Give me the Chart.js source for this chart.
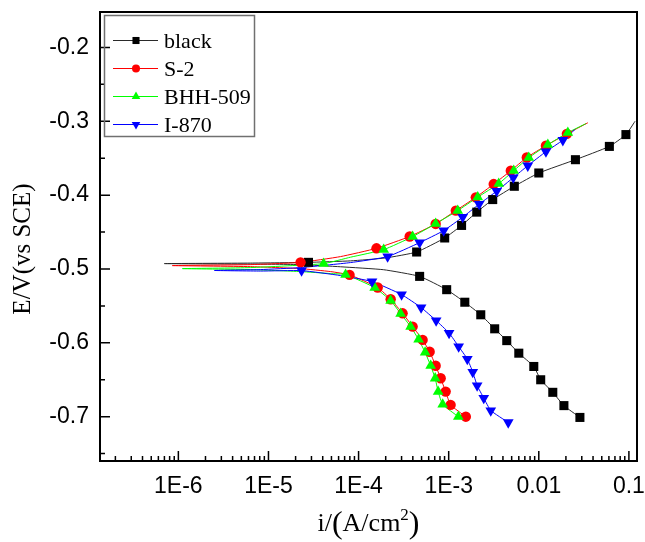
<!DOCTYPE html>
<html>
<head>
<meta charset="utf-8">
<script src="https://cdn.jsdelivr.net/npm/chart.js@4.4.1/dist/chart.umd.min.js"></script>
<style>
  html, body { margin: 0; padding: 0; background: #fff; }
</style>
</head>
<body>
<canvas id="tafel" width="645" height="542"></canvas>
<script>
// ---- values: i in A/cm2, E in V vs SCE ----
const seriesNames = ['black', 'S-2', 'BHH-509', 'I-870'];

// black: full polarisation curve, then the plotted symbols
const blackLineI = [0.0286, 0.019, 0.0143, 0.0105, 0.0088, 0.0060, 0.00441, 0.00324, 0.00227, 0.00151, 0.00095, 4.76e-4, 1.9e-4, 6.31e-5, 2.27e-5, 6.31e-6, 7.0e-7, 6.31e-6, 2.78e-5, 8.15e-5, 2.0e-4, 4.41e-4, 9.03e-4, 0.00139, 0.00205, 0.00308, 0.00535, 0.0100, 0.0255, 0.0607, 0.0927, 0.117];
const blackLineE = [-0.701, -0.685, -0.667, -0.650, -0.632, -0.614, -0.597, -0.581, -0.562, -0.545, -0.528, -0.510, -0.501, -0.497, -0.494, -0.4934, -0.4927, -0.492, -0.491, -0.489, -0.485, -0.477, -0.458, -0.441, -0.423, -0.406, -0.388, -0.370, -0.352, -0.334, -0.318, -0.300];
const blackMarkI = [2.78e-5, 4.41e-4, 9.03e-4, 0.00139, 0.00205, 0.00308, 0.00535, 0.0100, 0.0255, 0.0607, 0.0927, 4.76e-4, 9.5e-4, 0.00151, 0.00227, 0.00324, 0.00441, 0.0060, 0.0088, 0.0105, 0.0143, 0.019, 0.0286];
const blackMarkE = [-0.491, -0.477, -0.458, -0.441, -0.423, -0.406, -0.388, -0.370, -0.352, -0.334, -0.318, -0.510, -0.528, -0.545, -0.562, -0.581, -0.597, -0.614, -0.632, -0.650, -0.667, -0.685, -0.701];

// S-2
const s2LineI = [1.55e-3, 1.05e-3, 9.26e-4, 8.15e-4, 7.17e-4, 6.15e-4, 5.14e-4, 3.98e-4, 3.08e-4, 2.27e-4, 1.63e-4, 7.94e-5, 4.88e-5, 2.27e-5, 6.31e-6, 8.58e-7, 6.31e-6, 2.27e-5, 6.31e-5, 1.58e-4, 3.69e-4, 7.17e-4, 1.20e-3, 2.0e-3, 3.16e-3, 4.89e-3, 7.36e-3, 0.0120, 0.0205, 0.035];
const s2LineE = [-0.700, -0.684, -0.666, -0.648, -0.631, -0.612, -0.596, -0.578, -0.560, -0.541, -0.525, -0.508, -0.5035, -0.4995, -0.4968, -0.4954, -0.4941, -0.491, -0.4832, -0.472, -0.456, -0.439, -0.421, -0.403, -0.385, -0.367, -0.349, -0.333, -0.317, -0.302];
const s2MarkI = [2.27e-5, 1.58e-4, 3.69e-4, 7.17e-4, 1.20e-3, 2.0e-3, 3.16e-3, 4.89e-3, 7.36e-3, 0.0120, 0.0205, 7.94e-5, 1.63e-4, 2.27e-4, 3.08e-4, 3.98e-4, 5.14e-4, 6.15e-4, 7.17e-4, 8.15e-4, 9.26e-4, 1.05e-3, 1.55e-3];
const s2MarkE = [-0.491, -0.472, -0.456, -0.439, -0.421, -0.403, -0.385, -0.367, -0.349, -0.333, -0.317, -0.508, -0.525, -0.541, -0.560, -0.578, -0.596, -0.612, -0.631, -0.648, -0.666, -0.684, -0.700];

// BHH-509
const bhhLineI = [1.28e-3, 8.58e-4, 7.64e-4, 7.08e-4, 6.31e-4, 5.48e-4, 4.64e-4, 3.78e-4, 2.93e-4, 2.27e-4, 1.51e-4, 7.17e-5, 4.88e-5, 2.27e-5, 6.31e-6, 1.11e-6, 6.31e-6, 4.09e-5, 8.15e-5, 1.90e-4, 3.98e-4, 7.17e-4, 1.26e-3, 2.10e-3, 3.59e-3, 5.27e-3, 7.74e-3, 0.0126, 0.0210, 0.0333];
const bhhLineE = [-0.700, -0.6835, -0.666, -0.648, -0.631, -0.613, -0.5955, -0.578, -0.5604, -0.5428, -0.5252, -0.5076, -0.5062, -0.5035, -0.5008, -0.4995, -0.4981, -0.4927, -0.484, -0.4738, -0.4562, -0.4386, -0.421, -0.4027, -0.3845, -0.3669, -0.3493, -0.3317, -0.3154, -0.3032];
const bhhMarkI = [4.09e-5, 1.90e-4, 3.98e-4, 7.17e-4, 1.26e-3, 2.10e-3, 3.59e-3, 5.27e-3, 7.74e-3, 0.0126, 0.0210, 7.17e-5, 1.51e-4, 2.27e-4, 2.93e-4, 3.78e-4, 4.64e-4, 5.48e-4, 6.31e-4, 7.08e-4, 7.64e-4, 8.58e-4, 1.28e-3];
const bhhMarkE = [-0.4927, -0.4738, -0.4562, -0.4386, -0.421, -0.4027, -0.3845, -0.3669, -0.3493, -0.3317, -0.3154, -0.5076, -0.5252, -0.5428, -0.5604, -0.578, -0.5955, -0.613, -0.631, -0.648, -0.666, -0.6835, -0.700];

// I-870
const i870LineI = [4.58e-3, 2.93e-3, 2.45e-3, 2.07e-3, 1.85e-3, 1.61e-3, 1.29e-3, 1.01e-3, 7.26e-4, 4.94e-4, 3.0e-4, 1.41e-4, 6.31e-5, 2.33e-5, 8.15e-6, 2.51e-6, 8.15e-6, 2.27e-5, 8.15e-5, 2.10e-4, 4.76e-4, 8.80e-4, 1.43e-3, 2.18e-3, 3.41e-3, 5.21e-3, 7.55e-3, 0.0120, 0.0185, 0.0251];
const i870LineE = [-0.7078, -0.6916, -0.6747, -0.6578, -0.6395, -0.6219, -0.605, -0.5867, -0.5698, -0.5522, -0.5346, -0.517, -0.5089, -0.5022, -0.5028, -0.502, -0.5008, -0.4981, -0.4913, -0.4832, -0.4643, -0.448, -0.4298, -0.4122, -0.3946, -0.3763, -0.3601, -0.3411, -0.3256, -0.3114];
const i870MarkI = [2.10e-4, 4.76e-4, 8.80e-4, 1.43e-3, 2.18e-3, 3.41e-3, 5.21e-3, 7.55e-3, 0.0120, 0.0185, 2.33e-5, 1.41e-4, 3.0e-4, 4.94e-4, 7.26e-4, 1.01e-3, 1.29e-3, 1.61e-3, 1.85e-3, 2.07e-3, 2.45e-3, 2.93e-3, 4.58e-3];
const i870MarkE = [-0.4832, -0.4643, -0.448, -0.4298, -0.4122, -0.3946, -0.3763, -0.3601, -0.3411, -0.3256, -0.5022, -0.517, -0.5346, -0.5522, -0.5698, -0.5867, -0.605, -0.6219, -0.6395, -0.6578, -0.6747, -0.6916, -0.7078];

// axis ticks
const xMajorTicks = [1e-6, 1e-5, 1e-4, 1e-3, 0.01, 0.1];
const xTickLabels = ['1E-6', '1E-5', '1E-4', '1E-3', '0.01', '0.1'];
const yMajorTicks = [-0.7, -0.6, -0.5, -0.4, -0.3, -0.2];
const yTickLabels = ['-0.7', '-0.6', '-0.5', '-0.4', '-0.3', '-0.2'];
const yMinorTicks = [-0.75, -0.65, -0.55, -0.45, -0.35, -0.25];

// styles
const markColors = ['#000000', '#ff0000', '#00ff00', '#0000ff'];
const lineColors = ['#2a2a2a', '#ff0000', '#00ff00', '#0000ff'];
const shapes = ['rect', 'circle', 'triangle', 'triangle'];
const rotations = [0, 0, 0, 180];
const radii = [6.4, 5.2, 6.2, 6.2];
const legendRadii = [5, 4, 5, 5];

function pts(xs, ys) {
    return xs.map((x, k) => ({ x: x, y: ys[k] }));
}

const lines = [[blackLineI, blackLineE], [s2LineI, s2LineE], [bhhLineI, bhhLineE], [i870LineI, i870LineE]];
const marks = [[blackMarkI, blackMarkE], [s2MarkI, s2MarkE], [bhhMarkI, bhhMarkE], [i870MarkI, i870MarkE]];

const datasets = [];
seriesNames.forEach((name, k) => {
    datasets.push({
        label: name + ' curve',
        data: pts(lines[k][0], lines[k][1]),
        showLine: true,
        borderColor: lineColors[k],
        borderWidth: 1,
        pointRadius: 0,
        tension: 0.15,
        order: 10 - k
    });
    datasets.push({
        label: name,
        data: pts(marks[k][0], marks[k][1]),
        showLine: false,
        pointStyle: shapes[k],
        rotation: rotations[k],
        pointRadius: radii[k],
        backgroundColor: markColors[k],
        borderWidth: 0,
        order: 5 - k
    });
});

// inward ticks, closed frame, axis titles and the boxed legend
const framePlugin = {
    id: 'frame',
    afterDraw(chart) {
        const { ctx, chartArea: a, scales: { x, y } } = chart;
        ctx.save();
        ctx.strokeStyle = '#000';
        ctx.lineWidth = 1.5;
        ctx.beginPath();
        for (let d = -7; d <= -1; d++) {
            for (let m = 1; m <= 9; m++) {
                const v = m * Math.pow(10, d);
                if (v < x.min || v > x.max) continue;
                const px = x.getPixelForValue(v);
                const len = m === 1 ? 10 : 5;
                ctx.moveTo(px, a.bottom);
                ctx.lineTo(px, a.bottom - len);
            }
        }
        yMajorTicks.forEach(v => {
            const py = y.getPixelForValue(v);
            ctx.moveTo(a.left, py);
            ctx.lineTo(a.left + 10, py);
        });
        yMinorTicks.forEach(v => {
            const py = y.getPixelForValue(v);
            ctx.moveTo(a.left, py);
            ctx.lineTo(a.left + 5, py);
        });
        ctx.stroke();

        ctx.lineWidth = 2;
        ctx.strokeRect(a.left, a.top, a.right - a.left, a.bottom - a.top);

        // y title
        ctx.fillStyle = '#000';
        ctx.save();
        ctx.translate(23, 249);
        ctx.rotate(-Math.PI / 2);
        ctx.font = '25px "Liberation Serif"';
        ctx.textAlign = 'center';
        ctx.textBaseline = 'middle';
        ctx.fillText('E/V(vs SCE)', 0, 0);
        ctx.restore();

        // x title with superscript
        const parts = [
            ['i/', '26px "Liberation Serif"', 0],
            ['(', '32px "Liberation Serif"', 2],
            ['A/cm', '26px "Liberation Serif"', 0],
            ['2', '17px "Liberation Serif"', -11],
            [')', '32px "Liberation Serif"', 2]
        ];
        let total = 0;
        parts.forEach(p => { ctx.font = p[1]; total += ctx.measureText(p[0]).width; });
        let tx = (a.left + a.right) / 2 - total / 2;
        ctx.textAlign = 'left';
        ctx.textBaseline = 'alphabetic';
        parts.forEach(p => {
            ctx.font = p[1];
            ctx.fillText(p[0], tx, 531 + p[2]);
            tx += ctx.measureText(p[0]).width;
        });

        // legend
        ctx.strokeStyle = '#707070';
        ctx.lineWidth = 1.5;
        ctx.strokeRect(104.5, 15.5, 150, 121);
        ctx.font = '22px "Liberation Serif"';
        ctx.textBaseline = 'middle';
        seriesNames.forEach((name, k) => {
            const ly = 40 + k * 28;
            ctx.strokeStyle = lineColors[k];
            ctx.lineWidth = 1;
            ctx.beginPath();
            ctx.moveTo(113, ly + 0.5);
            ctx.lineTo(158, ly + 0.5);
            ctx.stroke();
            ctx.fillStyle = markColors[k];
            Chart.helpers.drawPoint(ctx, {
                pointStyle: shapes[k],
                rotation: rotations[k],
                radius: legendRadii[k],
                borderWidth: 0
            }, 136, ly + 0.5);
            ctx.fillStyle = '#000';
            ctx.fillText(name, 164, ly + 2);
        });
        ctx.restore();
    }
};

new Chart(document.getElementById('tafel'), {
    type: 'scatter',
    data: { datasets: datasets },
    options: {
        responsive: false,
        animation: false,
        layout: { padding: { top: 12, right: 8, left: 0, bottom: 0 } },
        plugins: { legend: { display: false }, tooltip: { enabled: false } },
        scales: {
            x: {
                type: 'logarithmic',
                min: 1.35e-7,
                max: 0.123,
                grid: { display: false, drawTicks: false },
                border: { display: false },
                ticks: {
                    autoSkip: false,
                    maxRotation: 0,
                    padding: 12,
                    color: '#000',
                    font: { family: 'Liberation Sans', size: 23 },
                    callback: v => xTickLabels[xMajorTicks.indexOf(v)]
                },
                afterBuildTicks: s => { s.ticks = xMajorTicks.map(v => ({ value: v })); },
                afterFit: s => { s.height = 81; s.paddingLeft = 0; s.paddingRight = 0; }
            },
            y: {
                min: -0.76,
                max: -0.152,
                grid: { display: false, drawTicks: false },
                border: { display: false },
                ticks: {
                    padding: 11,
                    color: '#000',
                    font: { family: 'Liberation Sans', size: 23 },
                    callback: v => yTickLabels[yMajorTicks.indexOf(v)]
                },
                afterBuildTicks: s => { s.ticks = yMajorTicks.map(v => ({ value: v })); },
                afterFit: s => { s.width = 100; s.paddingTop = 0; s.paddingBottom = 0; }
            }
        }
    },
    plugins: [framePlugin]
});
</script>
</body>
</html>
